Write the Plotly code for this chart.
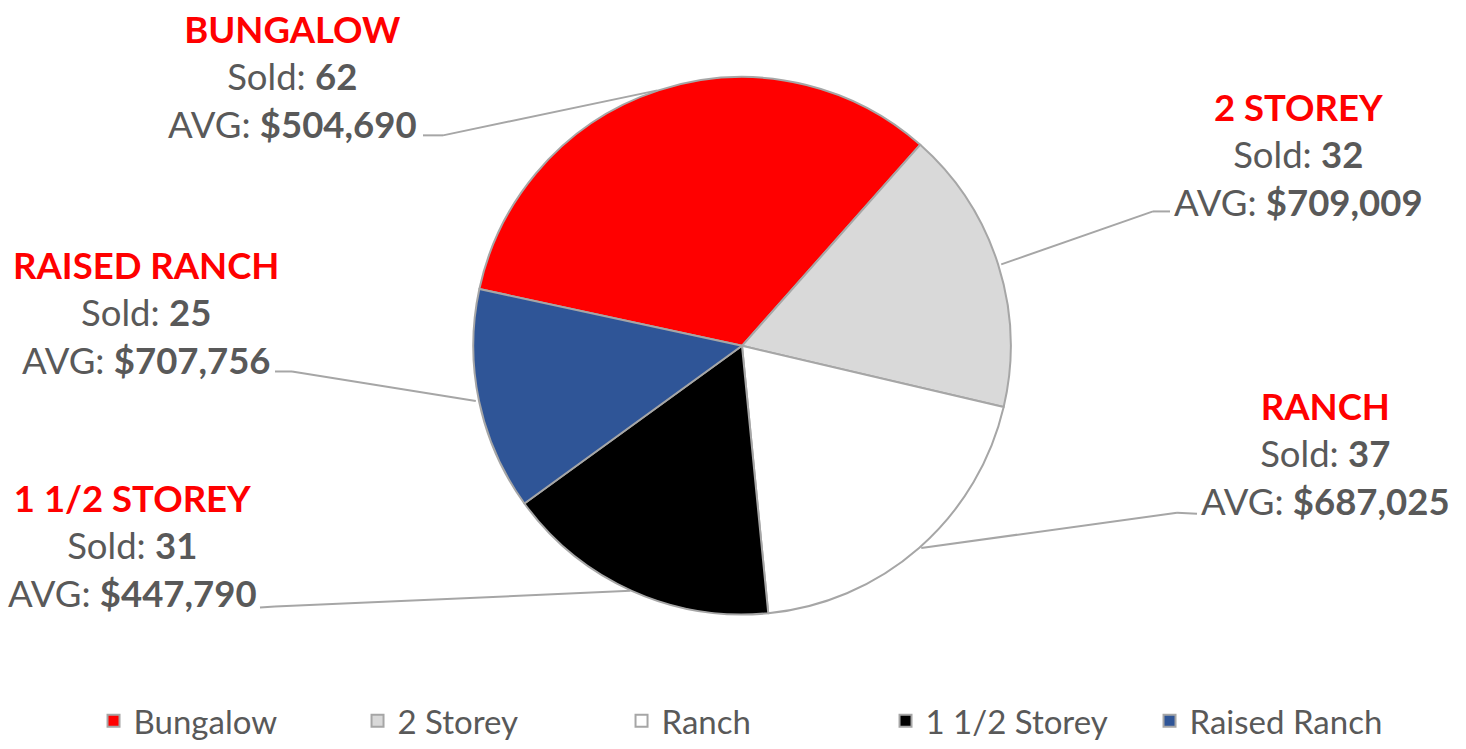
import math
import plotly.graph_objects as go

# ---- data ----
labels = ["Bungalow", "2 Storey", "Ranch", "1 1/2 Storey", "Raised Ranch"]
titles = ["BUNGALOW", "2 STOREY", "RANCH", "1 1/2 STOREY", "RAISED RANCH"]
sold = [62, 32, 37, 31, 25]
avg_price = [504690, 709009, 687025, 447790, 707756]

# ---- styling / layout constants ----
colors = ["#FF0000", "#D9D9D9", "#FFFFFF", "#000000", "#2F5597"]
W, H = 1466, 749
CX, CY, R = 742, 350, 272          # pie centre / radius in pixels
ROTATION = -77.8
FONT = "Lato"
GRAY = "#595959"
LINE = "#A6A6A6"

# label block centres (px) and label-side leader line points (px)
label_pos = [(292, 77), (1298, 156), (1325, 459), (132, 552), (146, 316)]
leader_knee = [[(423, 137), (443, 137)],
               [(1170, 214), (1153, 214)],
               [(1197, 520), (1177, 519)],
               [(260, 615), (275, 614)],
               [(275, 376), (292, 376)]]


def px(x, y):
    return x / W, 1 - y / H


fig = go.Figure(go.Pie(
    labels=labels, values=sold, sort=False, direction="clockwise",
    rotation=ROTATION, textinfo="none", hoverinfo="label+value",
    marker=dict(colors=colors, line=dict(color=LINE, width=2)),
    domain=dict(x=[(CX - R) / W, (CX + R) / W], y=[1 - (CY + R) / H, 1 - (CY - R) / H]),
))

total = sum(sold)
cum = 0
annotations = []
shapes = []
for i, v in enumerate(sold):
    mid = ROTATION + (cum + v / 2) / total * 360
    cum += v
    a = math.radians(mid)
    ex, ey = CX + R * math.sin(a), CY - R * math.cos(a)
    pts = leader_knee[i] + [(ex, ey)]
    for (x0, y0), (x1, y1) in zip(pts[:-1], pts[1:]):
        X0, Y0 = px(x0, y0)
        X1, Y1 = px(x1, y1)
        shapes.append(dict(type="line", xref="paper", yref="paper",
                           x0=X0, y0=Y0, x1=X1, y1=Y1,
                           line=dict(color=LINE, width=2)))
    lx, ly = px(*label_pos[i])
    txt = (f"<span style='color:#FF0000'><b>{titles[i]}</b></span><br>"
           f"Sold: <b>{v}</b><br>AVG: <b>${avg_price[i]:,}</b>")
    annotations.append(dict(xref="paper", yref="paper", x=lx, y=ly,
                            xanchor="center", yanchor="middle", align="center",
                            showarrow=False, text=txt,
                            font=dict(family=FONT, size=36.5, color=GRAY)))

fig.update_layout(
    width=W, height=H, margin=dict(l=0, r=0, t=0, b=0),
    paper_bgcolor="white", plot_bgcolor="white",
    annotations=annotations, shapes=shapes,
    showlegend=True,
    legend=dict(orientation="h", x=0.514, xanchor="center", y=0.026, yanchor="middle",
                font=dict(family=FONT, size=33, color=GRAY),
                entrywidth=219, entrywidthmode="pixels", traceorder="normal"),
)

fig.write_html("out.html")
